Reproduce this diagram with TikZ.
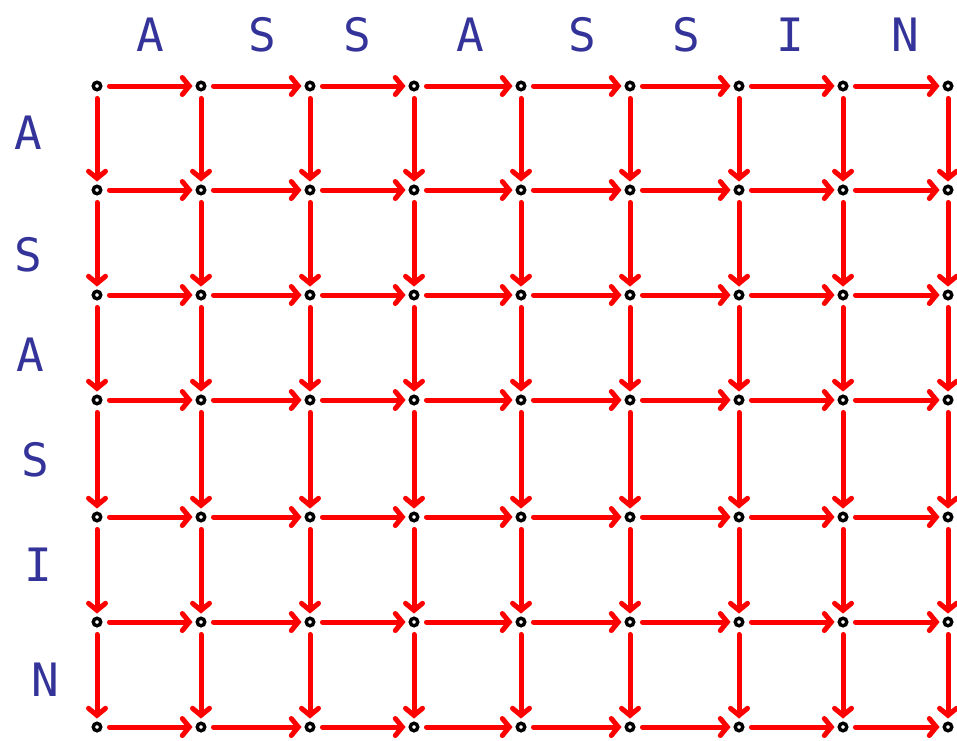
\documentclass[tikz,border=0pt]{standalone}
\usepackage{fontspec}
\setmainfont{DejaVu Sans Mono}
\usetikzlibrary{arrows.meta}
\definecolor{lettercol}{HTML}{33339A}
\tikzset{
  dotnode/.style={circle,draw=black,fill=white,line width=3.4pt,inner sep=0pt,minimum size=7.5pt},
  arr/.style={draw=red,line width=5pt,line cap=round,-{Straight Barb[length=7pt,width=17pt,line cap=round]},shorten <=7pt,shorten >=3pt},
  letter/.style={text=lettercol,font=\fontsize{46}{46}\selectfont,inner sep=0pt}
}
\begin{document}
\begin{tikzpicture}[x=1pt,y=-1pt]
\useasboundingbox (0,0) rectangle (957,740);
% dots
\foreach \x [count=\i] in {97,201,310,414,521,630,739,843,948}{
  \foreach \y [count=\j] in {86,190,295,400,517,622,727}{
    \node[dotnode] (d\i-\j) at (\x,\y) {};
  }
}
% horizontal arrows
\foreach \i [evaluate=\i as \k using int(\i+1)] in {1,...,8}{
  \foreach \j in {1,...,7}{
    \draw[arr] (d\i-\j) -- (d\k-\j);
  }
}
% vertical arrows
\foreach \i in {1,...,9}{
  \foreach \j [evaluate=\j as \k using int(\j+1)] in {1,...,6}{
    \draw[arr] (d\i-\j) -- (d\i-\k);
  }
}
% top letters
\node[letter] (t1) at (150,35) {A};
\node[letter] (t2) at (262,35) {S};
\node[letter] (t3) at (357,35) {S};
\node[letter] (t4) at (470,35) {A};
\node[letter] (t5) at (582,35) {S};
\node[letter] (t6) at (686,35) {S};
\node[letter] (t7) at (790,35) {I};
\node[letter] (t8) at (905,35) {N};
% left letters
\node[letter] (l1) at (28,133) {A};
\node[letter] (l2) at (28,255) {S};
\node[letter] (l3) at (30,355) {A};
\node[letter] (l4) at (35,460) {S};
\node[letter] (l5) at (38,565) {I};
\node[letter] (l6) at (45,680) {N};
\end{tikzpicture}
\end{document}
